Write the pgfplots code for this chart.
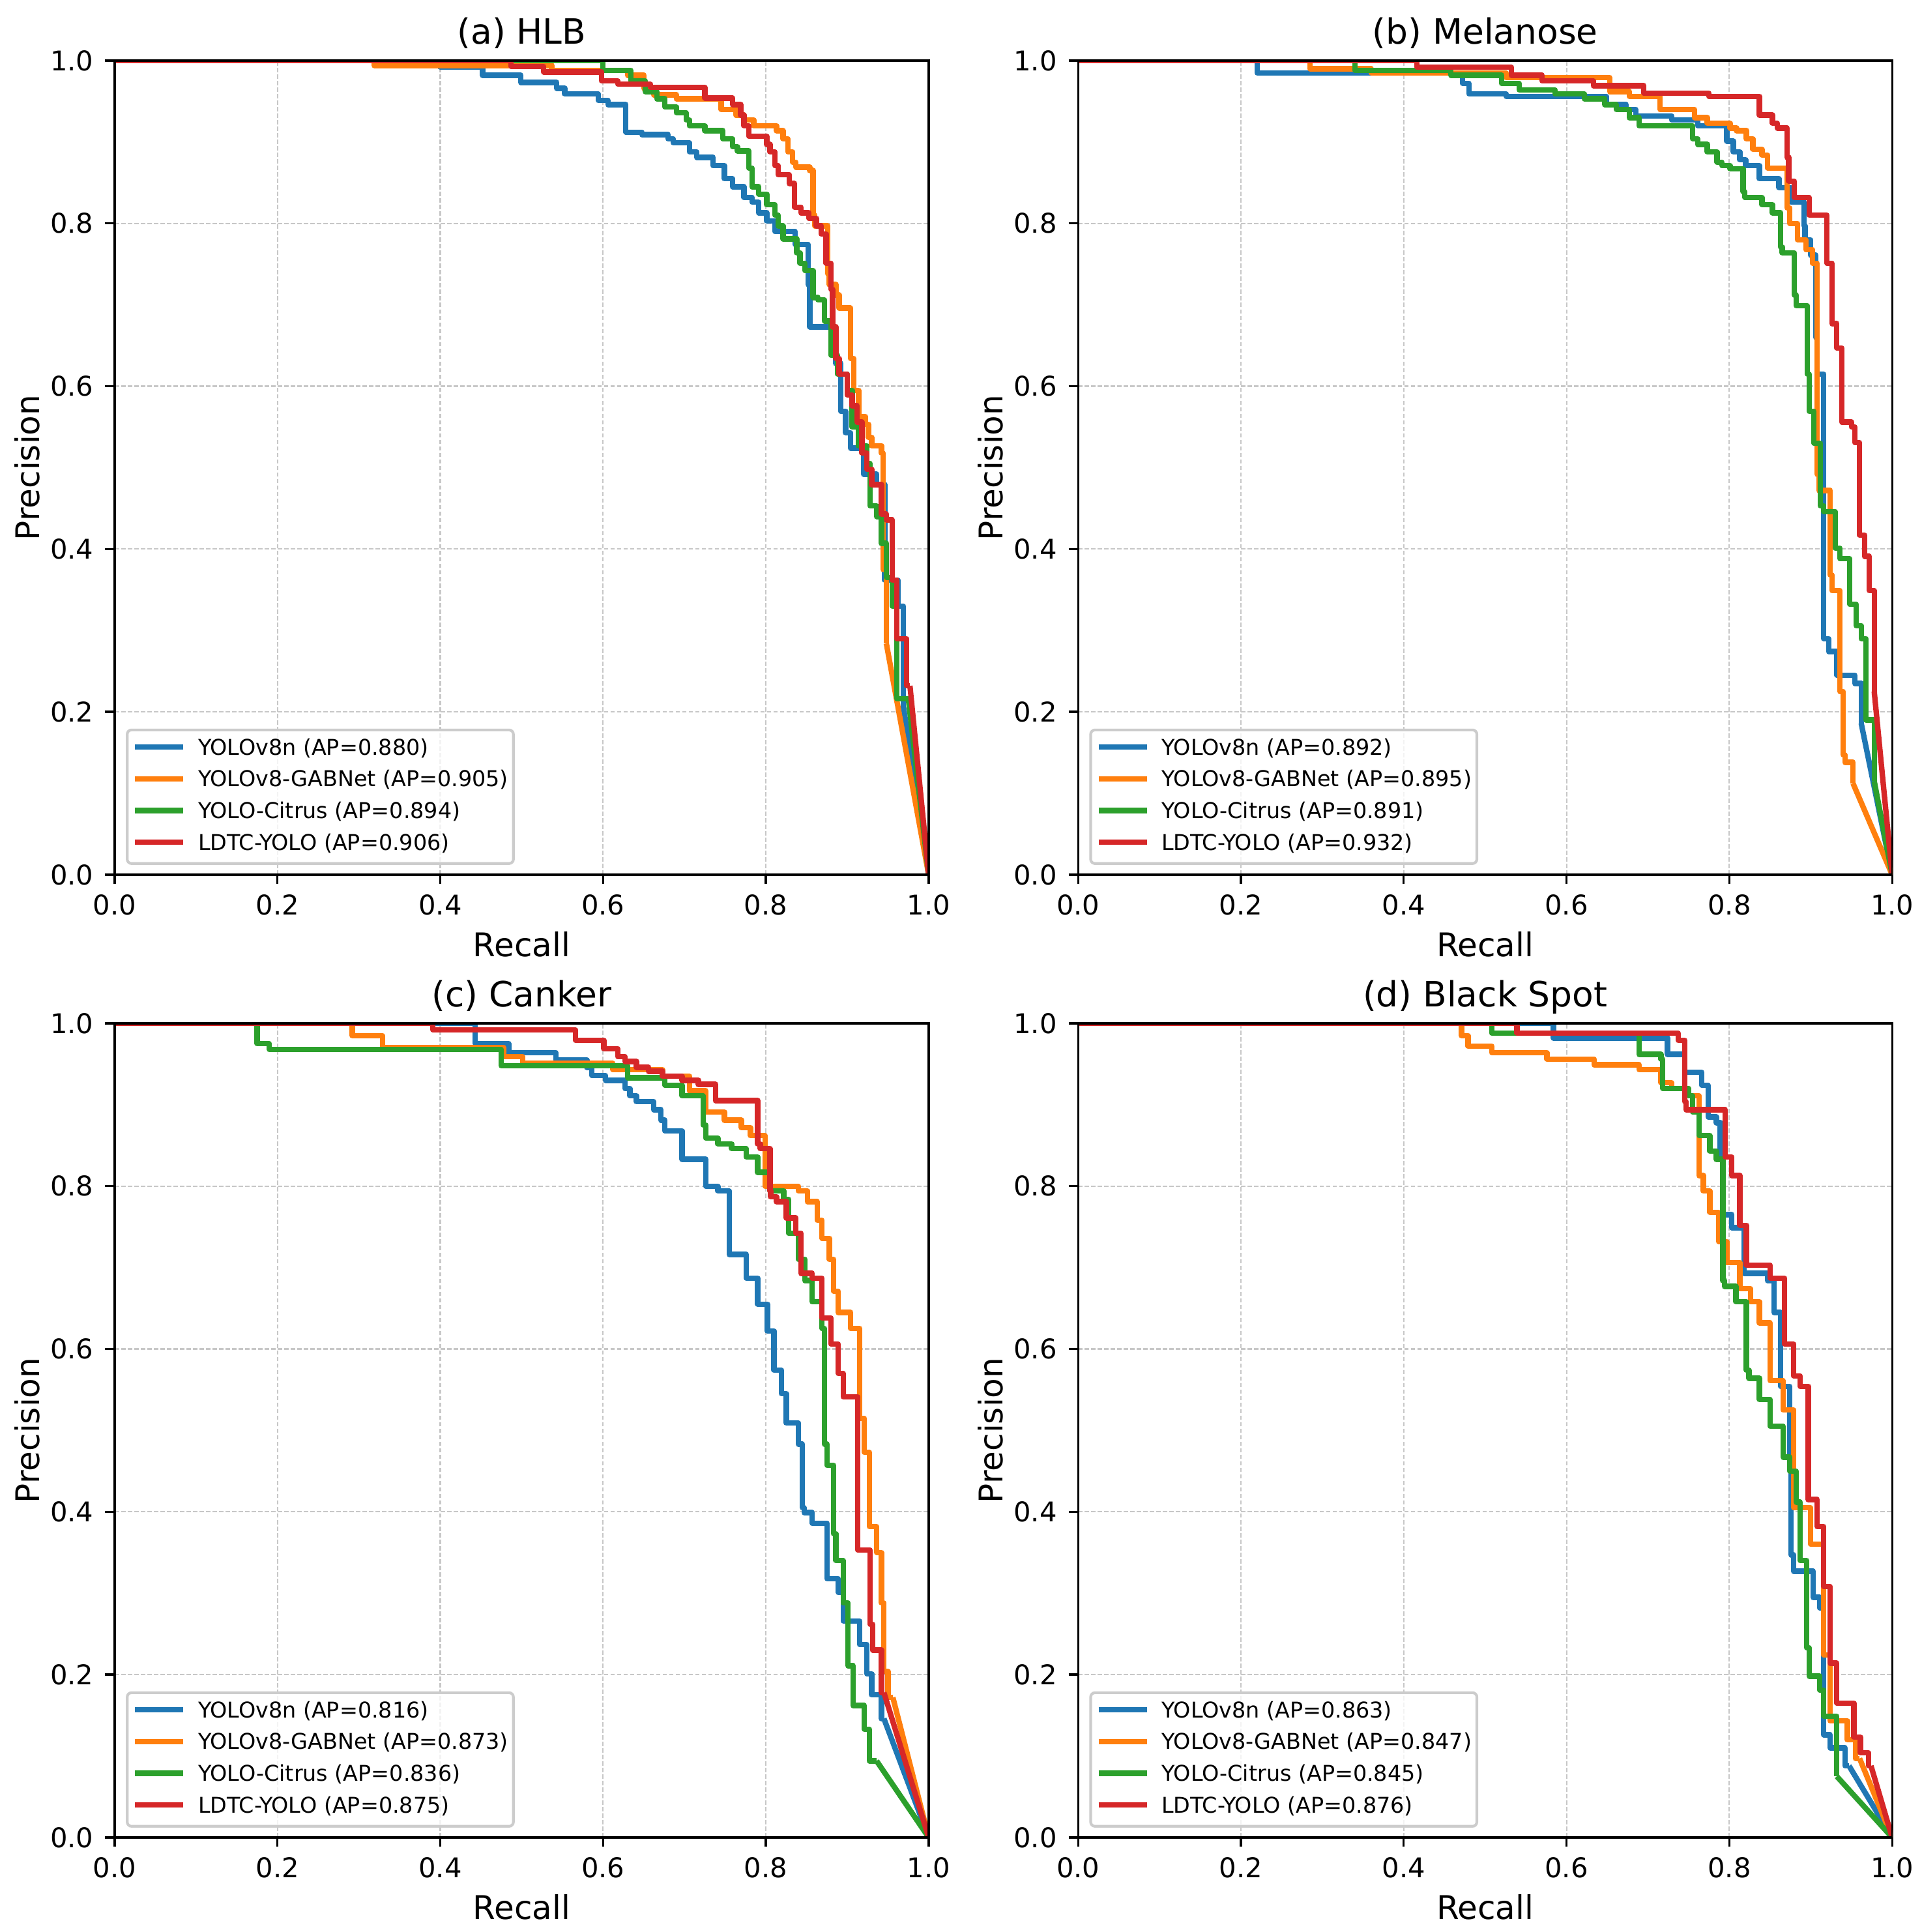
\documentclass[border=0pt]{standalone}
\usepackage{fontspec}
\setmainfont{DejaVu Sans}
\usepackage{pgfplots}
\pgfplotsset{compat=1.18}
\definecolor{c0}{HTML}{1F77B4}
\definecolor{c1}{HTML}{FF7F0E}
\definecolor{c2}{HTML}{2CA02C}
\definecolor{c3}{HTML}{D62728}
\pgfplotsset{
 ser/.style={line width=2pt, line join=round, no marks},
 pr/.style={
  width=299.5pt, height=299.5pt, scale only axis, anchor=south west,
  xmin=0, xmax=1, ymin=0, ymax=1,
  xtick={0,0.2,0.4,0.6,0.8,1}, ytick={0,0.2,0.4,0.6,0.8,1},
  tick pos=left, tick align=outside, major tick length=3.5pt,
  tick style={black, line width=0.8pt},
  axis line style={line width=0.8pt},
  grid=major, grid style={black!22, line width=0.5pt, dash pattern=on 1.6pt off 0.8pt},
  /pgf/number format/fixed, /pgf/number format/fixed zerofill,
  /pgf/number format/precision=1, /pgf/number format/assume math mode=true,
  tick label style={font=\fontsize{10}{12}\selectfont},
  xticklabel style={anchor=north, inner sep=0pt, yshift=-3.7pt},
  yticklabel style={anchor=east, inner sep=0pt, xshift=-4.1pt},
  xlabel={Recall}, ylabel={Precision},
  xlabel style={at={(axis description cs:0.5,0)}, anchor=base, yshift=-30.2pt, font=\fontsize{12}{14.4}\selectfont},
  ylabel style={at={(axis description cs:-0.0928,0.5)}, rotate=0, anchor=base, font=\fontsize{12}{14.4}\selectfont},
  every axis title shift=0pt,
  title style={at={(axis description cs:0.5,1)}, anchor=base, yshift=6pt, font=\fontsize{12.8}{15}\selectfont},
  legend image code/.code={\draw[#1, line width=2pt] (0pt,2.9pt) -- (17.8pt,2.9pt); \path (22.2pt,0pt);},
  legend style={at={(axis description cs:0.0137,0.012)}, anchor=south west,
   draw=black!20, line width=1pt, rounded corners=1.6pt, fill=white, fill opacity=0.8, text opacity=1,
   font=\fontsize{8}{9.6}\selectfont, inner xsep=1.9pt, inner ysep=3.3pt,
   cells={anchor=base west}, nodes={inner sep=0pt, text height=5.85pt, text depth=1.6pt}, row sep=4.25pt},
 }
}
\begin{document}
\begin{tikzpicture}
\path[use as bounding box] (-42.2pt,-34.8pt) rectangle (664.8pt,676pt);
% (a) HLB
\begin{axis}[pr, at={(0pt,354.2pt)}, title={(a) HLB}]
\addplot[ser, c0, const plot] coordinates {(0,1) (0.40,0.992) (0.452,0.982) (0.499,0.973) (0.543,0.966) (0.553,0.959) (0.594,0.951) (0.606,0.946) (0.628,0.912) (0.648,0.909) (0.680,0.904) (0.686,0.899) (0.706,0.888) (0.715,0.881) (0.735,0.871) (0.749,0.855) (0.759,0.845) (0.773,0.832) (0.783,0.826) (0.791,0.813) (0.801,0.803) (0.811,0.790) (0.836,0.774) (0.852,0.725) (0.854,0.673) (0.880,0.651) (0.886,0.628) (0.892,0.569) (0.898,0.543) (0.904,0.524) (0.920,0.492) (0.936,0.479) (0.946,0.362) (0.962,0.330) (0.969,0.206)};
\addplot[ser, c0, forget plot] coordinates {(0.969,0.206) (1,0)};
\addplot[ser, c1, const plot] coordinates {(0,1) (0.319,0.994) (0.537,0.988) (0.630,0.982) (0.650,0.966) (0.662,0.958) (0.690,0.953) (0.745,0.940) (0.763,0.933) (0.773,0.927) (0.785,0.920) (0.813,0.914) (0.821,0.904) (0.827,0.888) (0.833,0.875) (0.837,0.869) (0.854,0.865) (0.858,0.810) (0.860,0.797) (0.876,0.738) (0.878,0.725) (0.886,0.712) (0.890,0.696) (0.904,0.634) (0.908,0.595) (0.914,0.563) (0.922,0.553) (0.926,0.537) (0.930,0.527) (0.942,0.518) (0.944,0.375) (0.948,0.284)};
\addplot[ser, c1, forget plot] coordinates {(0.948,0.284) (1,0)};
\addplot[ser, c2, const plot] coordinates {(0,1) (0.60,0.988) (0.634,0.975) (0.652,0.962) (0.666,0.953) (0.676,0.943) (0.690,0.936) (0.702,0.927) (0.706,0.920) (0.725,0.914) (0.747,0.904) (0.759,0.894) (0.765,0.889) (0.779,0.868) (0.783,0.845) (0.791,0.836) (0.801,0.823) (0.811,0.810) (0.815,0.797) (0.821,0.781) (0.838,0.764) (0.842,0.751) (0.848,0.742) (0.858,0.709) (0.864,0.706) (0.872,0.680) (0.880,0.638) (0.888,0.615) (0.900,0.595) (0.906,0.550) (0.914,0.527) (0.924,0.505) (0.928,0.453) (0.936,0.440) (0.942,0.407) (0.948,0.365) (0.955,0.330) (0.961,0.216) (0.975,0.216)};
\addplot[ser, c2, forget plot] coordinates {(0.975,0.216) (1,0)};
\addplot[ser, c3, const plot] coordinates {(0,1) (0.487,0.993) (0.527,0.986) (0.598,0.975) (0.618,0.971) (0.658,0.967) (0.725,0.954) (0.759,0.946) (0.769,0.933) (0.773,0.920) (0.779,0.907) (0.801,0.897) (0.805,0.888) (0.811,0.871) (0.815,0.860) (0.829,0.849) (0.835,0.820) (0.843,0.813) (0.853,0.806) (0.862,0.797) (0.868,0.787) (0.874,0.751) (0.880,0.719) (0.882,0.673) (0.886,0.634) (0.890,0.615) (0.900,0.589) (0.906,0.576) (0.912,0.556) (0.918,0.518) (0.924,0.498) (0.930,0.479) (0.942,0.443) (0.948,0.436) (0.955,0.362) (0.961,0.290) (0.973,0.232) (0.977,0.232)};
\addplot[ser, c3, forget plot] coordinates {(0.977,0.232) (1,0)};
\legend{YOLOv8n (AP=0.880), YOLOv8-GABNet (AP=0.905), YOLO-Citrus (AP=0.894), LDTC-YOLO (AP=0.906)}
\draw[line width=0.8pt] (rel axis cs:0,0) rectangle (rel axis cs:1,1);
\end{axis}
% (b) Melanose
\begin{axis}[pr, at={(354.5pt,354.2pt)}, title={(b) Melanose}]
\addplot[ser, c0, const plot] coordinates {(0,1) (0.22,0.985) (0.472,0.972) (0.480,0.959) (0.526,0.956) (0.649,0.946) (0.673,0.940) (0.685,0.932) (0.729,0.927) (0.761,0.920) (0.797,0.901) (0.805,0.888) (0.813,0.878) (0.820,0.871) (0.837,0.855) (0.861,0.844) (0.876,0.826) (0.892,0.797) (0.893,0.780) (0.900,0.761) (0.906,0.660) (0.908,0.615) (0.916,0.290) (0.922,0.274) (0.932,0.245) (0.954,0.235) (0.962,0.186)};
\addplot[ser, c0, forget plot] coordinates {(0.962,0.186) (1,0)};
\addplot[ser, c1, const plot] coordinates {(0,1) (0.285,0.990) (0.36,0.985) (0.526,0.979) (0.653,0.962) (0.677,0.956) (0.715,0.940) (0.757,0.930) (0.773,0.923) (0.801,0.917) (0.809,0.914) (0.821,0.904) (0.829,0.891) (0.840,0.884) (0.847,0.868) (0.871,0.819) (0.874,0.800) (0.884,0.780) (0.894,0.768) (0.902,0.751) (0.908,0.492) (0.910,0.472) (0.924,0.368) (0.926,0.349) (0.936,0.225) (0.940,0.147) (0.942,0.138) (0.952,0.112)};
\addplot[ser, c1, forget plot] coordinates {(0.952,0.112) (1,0)};
\addplot[ser, c2, const plot] coordinates {(0,1) (0.34,0.988) (0.458,0.982) (0.520,0.972) (0.542,0.964) (0.586,0.959) (0.622,0.953) (0.647,0.946) (0.661,0.940) (0.677,0.930) (0.689,0.920) (0.755,0.904) (0.761,0.897) (0.773,0.888) (0.785,0.875) (0.791,0.871) (0.801,0.867) (0.817,0.839) (0.819,0.832) (0.840,0.823) (0.853,0.813) (0.863,0.771) (0.865,0.764) (0.880,0.712) (0.882,0.699) (0.896,0.615) (0.898,0.569) (0.904,0.530) (0.912,0.453) (0.916,0.446) (0.930,0.401) (0.936,0.388) (0.948,0.332) (0.956,0.306) (0.962,0.290) (0.968,0.190) (0.978,0.115)};
\addplot[ser, c2, forget plot] coordinates {(0.978,0.115) (1,0)};
\addplot[ser, c3, const plot] coordinates {(0,1) (0.416,0.992) (0.532,0.982) (0.570,0.975) (0.633,0.969) (0.695,0.960) (0.775,0.956) (0.837,0.933) (0.853,0.923) (0.859,0.917) (0.871,0.881) (0.873,0.852) (0.880,0.832) (0.898,0.810) (0.920,0.751) (0.926,0.677) (0.932,0.647) (0.938,0.556) (0.950,0.550) (0.954,0.531) (0.960,0.417) (0.966,0.391) (0.972,0.349) (0.978,0.225)};
\addplot[ser, c3, forget plot] coordinates {(0.978,0.225) (1,0)};
\legend{YOLOv8n (AP=0.892), YOLOv8-GABNet (AP=0.895), YOLO-Citrus (AP=0.891), LDTC-YOLO (AP=0.932)}
\draw[line width=0.8pt] (rel axis cs:0,0) rectangle (rel axis cs:1,1);
\end{axis}
% (c) Canker
\begin{axis}[pr, at={(0pt,0pt)}, title={(c) Canker}]
\addplot[ser, c0, const plot] coordinates {(0,1) (0.443,0.975) (0.484,0.964) (0.542,0.955) (0.580,0.946) (0.586,0.936) (0.603,0.930) (0.627,0.920) (0.633,0.911) (0.641,0.904) (0.662,0.894) (0.671,0.881) (0.676,0.868) (0.697,0.833) (0.726,0.800) (0.741,0.794) (0.755,0.716) (0.776,0.687) (0.790,0.655) (0.802,0.622) (0.810,0.574) (0.819,0.545) (0.825,0.509) (0.840,0.483) (0.845,0.405) (0.847,0.399) (0.857,0.386) (0.875,0.318) (0.889,0.301) (0.895,0.266) (0.915,0.237) (0.924,0.201) (0.930,0.175) (0.942,0.146) (0.945,0.146)};
\addplot[ser, c0, forget plot] coordinates {(0.945,0.146) (1,0)};
\addplot[ser, c1, const plot] coordinates {(0,1) (0.292,0.985) (0.329,0.970) (0.478,0.959) (0.501,0.951) (0.612,0.943) (0.673,0.935) (0.706,0.917) (0.726,0.891) (0.749,0.881) (0.770,0.872) (0.781,0.862) (0.799,0.800) (0.840,0.794) (0.851,0.781) (0.863,0.758) (0.869,0.736) (0.878,0.710) (0.883,0.671) (0.889,0.645) (0.904,0.625) (0.915,0.515) (0.921,0.473) (0.927,0.382) (0.936,0.350) (0.942,0.288) (0.945,0.204) (0.950,0.172) (0.956,0.172)};
\addplot[ser, c1, forget plot] coordinates {(0.956,0.172) (1,0)};
\addplot[ser, c2, const plot] coordinates {(0,1) (0.175,0.975) (0.19,0.968) (0.475,0.948) (0.630,0.933) (0.676,0.924) (0.697,0.911) (0.723,0.875) (0.726,0.859) (0.741,0.852) (0.758,0.846) (0.776,0.836) (0.790,0.817) (0.805,0.794) (0.822,0.784) (0.828,0.742) (0.840,0.710) (0.848,0.684) (0.857,0.658) (0.869,0.625) (0.872,0.483) (0.875,0.457) (0.883,0.373) (0.886,0.340) (0.895,0.288) (0.901,0.211) (0.907,0.162) (0.921,0.133) (0.927,0.094) (0.936,0.094)};
\addplot[ser, c2, forget plot] coordinates {(0.936,0.094) (1,0)};
\addplot[ser, c3, const plot] coordinates {(0,1) (0.391,0.992) (0.566,0.979) (0.601,0.969) (0.618,0.959) (0.627,0.953) (0.641,0.946) (0.656,0.941) (0.673,0.935) (0.697,0.930) (0.717,0.925) (0.738,0.905) (0.790,0.852) (0.793,0.846) (0.805,0.794) (0.806,0.787) (0.813,0.781) (0.825,0.761) (0.837,0.742) (0.843,0.693) (0.857,0.687) (0.869,0.638) (0.880,0.606) (0.889,0.570) (0.895,0.541) (0.913,0.353) (0.928,0.262) (0.931,0.230) (0.942,0.178) (0.945,0.178)};
\addplot[ser, c3, forget plot] coordinates {(0.945,0.178) (1,0)};
\legend{YOLOv8n (AP=0.816), YOLOv8-GABNet (AP=0.873), YOLO-Citrus (AP=0.836), LDTC-YOLO (AP=0.875)}
\draw[line width=0.8pt] (rel axis cs:0,0) rectangle (rel axis cs:1,1);
\end{axis}
% (d) Black Spot
\begin{axis}[pr, at={(354.5pt,0pt)}, title={(d) Black Spot}]
\addplot[ser, c0, const plot] coordinates {(0,1) (0.584,0.982) (0.724,0.962) (0.745,0.940) (0.766,0.924) (0.774,0.885) (0.784,0.878) (0.789,0.833) (0.792,0.765) (0.803,0.749) (0.818,0.693) (0.847,0.684) (0.855,0.645) (0.863,0.554) (0.874,0.463) (0.876,0.347) (0.879,0.327) (0.903,0.295) (0.911,0.282) (0.916,0.126) (0.924,0.110) (0.942,0.088) (0.947,0.088)};
\addplot[ser, c0, forget plot] coordinates {(0.947,0.088) (1,0)};
\addplot[ser, c1, const plot] coordinates {(0,1) (0.471,0.985) (0.479,0.972) (0.508,0.964) (0.576,0.956) (0.634,0.949) (0.689,0.943) (0.716,0.927) (0.729,0.920) (0.750,0.911) (0.763,0.813) (0.768,0.794) (0.776,0.768) (0.787,0.732) (0.797,0.706) (0.813,0.674) (0.826,0.658) (0.837,0.632) (0.850,0.561) (0.866,0.525) (0.879,0.405) (0.900,0.360) (0.916,0.224) (0.924,0.143) (0.945,0.120) (0.955,0.097) (0.960,0.097)};
\addplot[ser, c1, forget plot] coordinates {(0.960,0.097) (1,0)};
\addplot[ser, c2, const plot] coordinates {(0,1) (0.508,0.988) (0.689,0.962) (0.716,0.956) (0.718,0.920) (0.750,0.911) (0.755,0.891) (0.763,0.862) (0.776,0.843) (0.784,0.833) (0.792,0.684) (0.794,0.677) (0.808,0.658) (0.821,0.574) (0.824,0.564) (0.837,0.538) (0.850,0.505) (0.866,0.467) (0.874,0.450) (0.882,0.412) (0.887,0.340) (0.895,0.233) (0.898,0.198) (0.911,0.181) (0.916,0.149) (0.932,0.075)};
\addplot[ser, c2, forget plot] coordinates {(0.932,0.075) (1,0)};
\addplot[ser, c3, const plot] coordinates {(0,1) (0.539,0.988) (0.737,0.979) (0.745,0.904) (0.747,0.894) (0.795,0.836) (0.803,0.813) (0.813,0.752) (0.821,0.703) (0.850,0.687) (0.868,0.606) (0.879,0.567) (0.887,0.554) (0.897,0.415) (0.908,0.382) (0.916,0.308) (0.924,0.214) (0.932,0.165) (0.953,0.123) (0.961,0.104) (0.971,0.088) (0.974,0.088)};
\addplot[ser, c3, forget plot] coordinates {(0.974,0.088) (1,0)};
\legend{YOLOv8n (AP=0.863), YOLOv8-GABNet (AP=0.847), YOLO-Citrus (AP=0.845), LDTC-YOLO (AP=0.876)}
\draw[line width=0.8pt] (rel axis cs:0,0) rectangle (rel axis cs:1,1);
\end{axis}
\end{tikzpicture}
\end{document}
